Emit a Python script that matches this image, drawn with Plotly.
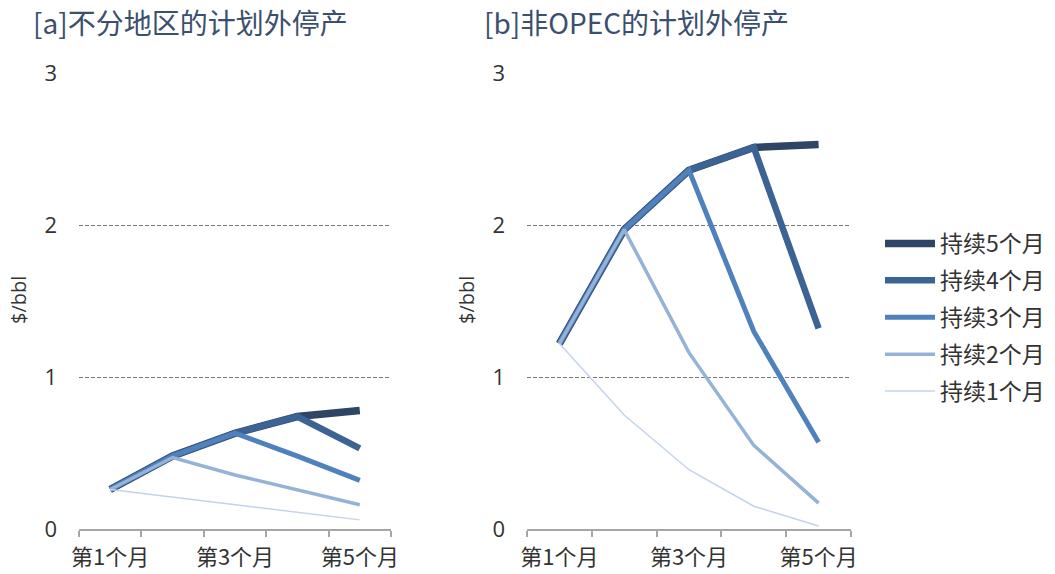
import plotly.graph_objects as go

months = ["第1个月", "第2个月", "第3个月", "第4个月", "第5个月"]
month_ticktext = ["第1个月", "", "第3个月", "", "第5个月"]
series_names = ["持续5个月", "持续4个月", "持续3个月", "持续2个月", "持续1个月"]

# Panel a: unplanned outages, all regions ($/bbl)
a_5 = [0.26, 0.48, 0.63, 0.74, 0.78]
a_4 = [0.26, 0.48, 0.63, 0.74, 0.53]
a_3 = [0.26, 0.48, 0.63, 0.48, 0.32]
a_2 = [0.26, 0.47, 0.355, 0.26, 0.16]
a_1 = [0.26, 0.21, 0.16, 0.11, 0.06]

# Panel b: non-OPEC unplanned outages ($/bbl)
b_5 = [1.22, 1.97, 2.36, 2.51, 2.53]
b_4 = [1.22, 1.97, 2.36, 2.51, 1.32]
b_3 = [1.22, 1.97, 2.36, 1.30, 0.57]
b_2 = [1.22, 1.97, 1.16, 0.55, 0.17]
b_1 = [1.22, 0.75, 0.39, 0.15, 0.02]

y_ticks = [0, 1, 2, 3]

colors = ["#2F4566", "#3B6394", "#4F81BD", "#95B3D7", "#C3D4EA"]
widths = [7.5, 6.5, 5, 3.5, 1.5]

fig = go.Figure()
panel_a = [a_5, a_4, a_3, a_2, a_1]
panel_b = [b_5, b_4, b_3, b_2, b_1]

for i, vals in enumerate(panel_a):
    fig.add_trace(go.Scatter(x=months, y=vals, mode="lines", name=series_names[i],
                             line=dict(color=colors[i], width=widths[i]),
                             legendgroup=series_names[i], showlegend=False,
                             xaxis="x", yaxis="y"))
for i, vals in enumerate(panel_b):
    fig.add_trace(go.Scatter(x=months, y=vals, mode="lines", name=series_names[i],
                             line=dict(color=colors[i], width=widths[i]),
                             legendgroup=series_names[i], showlegend=True,
                             xaxis="x2", yaxis="y2"))

xcommon = dict(type="category", tickson="boundaries", tickvals=months, ticktext=month_ticktext,
               range=[-0.5, 4.5], ticks="outside", ticklen=6, tickcolor="#A6A6A6", tickwidth=1.5,
               showline=True, linecolor="#A6A6A6", linewidth=1.5, showgrid=False,
               tickangle=0, automargin=False,
               tickfont=dict(family="Noto Sans CJK SC", size=22, color="#333333"),
               ticklabelstandoff=8, fixedrange=True)
ycommon = dict(range=[0, 3], tickvals=y_ticks, showgrid=True, gridcolor="#7A7A7A", griddash="4px,2px",
               gridwidth=1.2, zeroline=False, showline=False, ticks="", automargin=False,
               tickfont=dict(family="Open Sans", size=22, color="#333333"),
               ticklabelstandoff=21, fixedrange=True)

ydom = [1 - 529 / 574, 1 - 73 / 574]
fig.update_layout(
    width=1055, height=574,
    margin=dict(l=0, r=0, t=0, b=0, autoexpand=False),
    paper_bgcolor="white", plot_bgcolor="white",
    xaxis=dict(domain=[79 / 1055, 391 / 1055], anchor="y", **xcommon),
    yaxis=dict(domain=ydom, anchor="x", **ycommon),
    xaxis2=dict(domain=[527 / 1055, 851 / 1055], anchor="y2", **xcommon),
    yaxis2=dict(domain=ydom, anchor="x2", **ycommon),
    showlegend=True,
    legend=dict(x=880 / 1055, xanchor="left", y=1 - 222 / 574, yanchor="top",
                font=dict(family="Noto Sans CJK SC", size=23, color="#333333"),
                tracegroupgap=4, itemwidth=50, bgcolor="rgba(0,0,0,0)"),
    annotations=[
        dict(text="[a]不分地区的计划外停产", x=31 / 1055, y=1 - 22 / 574, xref="paper", yref="paper",
             xanchor="left", yanchor="middle", showarrow=False,
             font=dict(family="Noto Sans CJK SC", size=28, color="#3B4F6E")),
        dict(text="[b]非OPEC的计划外停产", x=482 / 1055, y=1 - 22 / 574, xref="paper", yref="paper",
             xanchor="left", yanchor="middle", showarrow=False,
             font=dict(family="Noto Sans CJK SC", size=28, color="#3B4F6E")),
        dict(text="$/bbl", x=18 / 1055, y=1 - 300 / 574, xref="paper", yref="paper",
             xanchor="center", yanchor="middle", showarrow=False, textangle=-90,
             font=dict(family="Open Sans", size=20, color="#333333")),
        dict(text="$/bbl", x=466 / 1055, y=1 - 300 / 574, xref="paper", yref="paper",
             xanchor="center", yanchor="middle", showarrow=False, textangle=-90,
             font=dict(family="Open Sans", size=20, color="#333333")),
    ],
)

fig.write_html("out.html")
